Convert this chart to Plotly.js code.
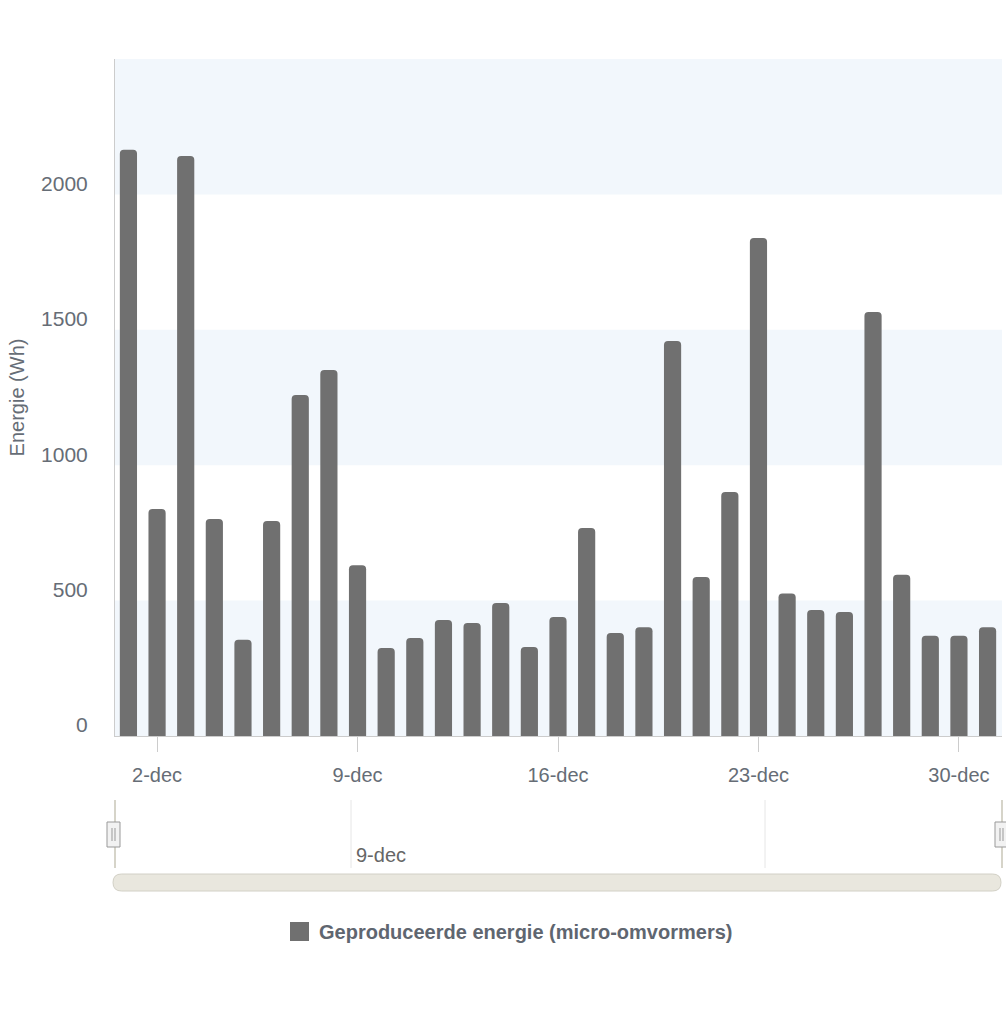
<!DOCTYPE html>
<html>
<head>
<meta charset="utf-8">
<script src="https://cdn.plot.ly/plotly-3.0.1.min.js"></script>
<style>
  html, body { margin: 0; padding: 0; background: #ffffff; }
  #chart { width: 1006px; height: 1024px; }
</style>
</head>
<body>
<div id="chart"></div>
<script>
// ---- data ----
var dates = [
  '2024-12-01','2024-12-02','2024-12-03','2024-12-04','2024-12-05','2024-12-06','2024-12-07',
  '2024-12-08','2024-12-09','2024-12-10','2024-12-11','2024-12-12','2024-12-13','2024-12-14',
  '2024-12-15','2024-12-16','2024-12-17','2024-12-18','2024-12-19','2024-12-20','2024-12-21',
  '2024-12-22','2024-12-23','2024-12-24','2024-12-25','2024-12-26','2024-12-27','2024-12-28',
  '2024-12-29','2024-12-30','2024-12-31'
];
var energyWh = [
  2165, 838, 2142, 801, 355, 794, 1259,
  1352, 631, 325, 362, 428, 417, 491,
  329, 439, 768, 380, 402, 1459, 587,
  901, 1839, 526, 465, 458, 1566, 595,
  370, 370, 402
];
var seriesName = 'Geproduceerde energie (micro-omvormers)';
var xTickVals = ['2024-12-02', '2024-12-09', '2024-12-16', '2024-12-23', '2024-12-30'];
var xTickText = ['2-dec', '9-dec', '16-dec', '23-dec', '30-dec'];
var yTickVals = [0, 500, 1000, 1500, 2000];
var yTickText = ['0', '500', '1000', '1500', '2000'];
var bandRanges = [[0, 500], [1000, 1500], [2000, 2500]];
var navigatorLabel = '9-dec';

// ---- page geometry helpers (pixel -> paper) ----
var W = 1006, H = 1024;
function px(x) { return x / W; }
function py(y) { return 1 - y / H; }
function pt(x, y) { return px(x).toFixed(5) + ',' + py(y).toFixed(5); }
function roundRectPath(x0, y0, x1, y1, r) {
  return 'M' + pt(x0 + r, y0) + ' L' + pt(x1 - r, y0) +
    ' Q' + pt(x1, y0) + ' ' + pt(x1, y0 + r) +
    ' L' + pt(x1, y1 - r) +
    ' Q' + pt(x1, y1) + ' ' + pt(x1 - r, y1) +
    ' L' + pt(x0 + r, y1) +
    ' Q' + pt(x0, y1) + ' ' + pt(x0, y1 - r) +
    ' L' + pt(x0, y0 + r) +
    ' Q' + pt(x0, y0) + ' ' + pt(x0 + r, y0) + ' Z';
}

var FONT = '"Liberation Sans", Arial, Helvetica, sans-serif';
var LABEL = '#666d76';
var BAR = '#707070';
var AXIS = '#cccccc';

var shapes = [];
// plot bands
bandRanges.forEach(function (b) {
  shapes.push({type: 'rect', xref: 'x domain', yref: 'y', x0: 0, x1: 1, y0: b[0], y1: b[1],
    fillcolor: '#f2f7fc', line: {width: 0}, layer: 'below'});
});

// navigator
var navTop = 800, navBot = 868;
[351, 765].forEach(function (g) {
  shapes.push({type: 'line', xref: 'paper', yref: 'paper', x0: px(g), x1: px(g),
    y0: py(navTop), y1: py(navBot), line: {color: '#e6e6e6', width: 1}});
});
[115, 1002].forEach(function (x) {
  shapes.push({type: 'line', xref: 'paper', yref: 'paper', x0: px(x), x1: px(x),
    y0: py(navTop), y1: py(navBot), line: {color: '#d6d4c9', width: 2}});
});
// handles
[[107, 120], [995, 1008]].forEach(function (h) {
  shapes.push({type: 'rect', xref: 'paper', yref: 'paper', x0: px(h[0]), x1: px(h[1]),
    y0: py(822), y1: py(847), fillcolor: '#f2f2f2', line: {color: '#999999', width: 1}});
  var c = (h[0] + h[1]) / 2;
  [c - 1.5, c + 1.5].forEach(function (lx) {
    shapes.push({type: 'line', xref: 'paper', yref: 'paper', x0: px(lx), x1: px(lx),
      y0: py(828), y1: py(841), line: {color: '#999999', width: 1}});
  });
});
// scrollbar
shapes.push({type: 'path', xref: 'paper', yref: 'paper', path: roundRectPath(113, 874, 1001, 891, 8.5),
  fillcolor: '#e9e7de', line: {color: '#d2d0c6', width: 1}});
// legend swatch
shapes.push({type: 'rect', xref: 'paper', yref: 'paper', x0: px(290), x1: px(309),
  y0: py(922), y1: py(941), fillcolor: BAR, line: {width: 0}});

var annotations = [
  {xref: 'paper', yref: 'paper', x: px(354), y: py(855), xanchor: 'left', yanchor: 'middle',
   text: navigatorLabel, showarrow: false, font: {family: FONT, size: 20, color: '#666666'}},
  {xref: 'paper', yref: 'paper', x: px(317), y: py(932), xanchor: 'left', yanchor: 'middle',
   text: seriesName, showarrow: false, font: {family: FONT, size: 20, color: '#5f6670', weight: 700}}
];

var trace = {
  type: 'bar',
  x: dates,
  y: energyWh,
  name: seriesName,
  marker: {color: BAR, cornerradius: 4, line: {width: 0}},
  hoverinfo: 'x+y'
};

var layout = {
  width: W, height: H,
  margin: {l: 0, r: 0, t: 0, b: 0, pad: 0},
  paper_bgcolor: '#ffffff',
  plot_bgcolor: '#ffffff',
  showlegend: false,
  bargap: 0.4,
  font: {family: FONT, color: LABEL, size: 20},
  xaxis: {
    type: 'date',
    domain: [115 / W, 1002 / W],
    range: ['2024-11-30 12:45', '2024-12-31 12:05'],
    tickvals: xTickVals,
    ticktext: xTickText,
    ticks: 'outside', ticklen: 15, tickcolor: AXIS, tickwidth: 1,
    showline: true, linecolor: AXIS, linewidth: 1,
    showgrid: false, zeroline: false,
    ticklabelstandoff: 6,
    tickfont: {family: FONT, size: 20, color: LABEL},
    fixedrange: true
  },
  yaxis: {
    domain: [(H - 736) / H, (H - 59) / H],
    range: [0, 2500],
    tickvals: yTickVals,
    ticktext: yTickText,
    ticks: '', showgrid: false, zeroline: false,
    showline: true, linecolor: AXIS, linewidth: 1,
    ticklabelstandoff: 22,
    ticklabelshift: -11,
    tickfont: {family: FONT, size: 21, color: LABEL},
    title: {text: 'Energie (Wh)', font: {family: FONT, size: 20, color: LABEL}, standoff: 11},
    fixedrange: true
  },
  shapes: shapes,
  annotations: annotations
};

Plotly.newPlot('chart', [trace], layout, {displayModeBar: false, staticPlot: false, responsive: false});
</script>
</body>
</html>
